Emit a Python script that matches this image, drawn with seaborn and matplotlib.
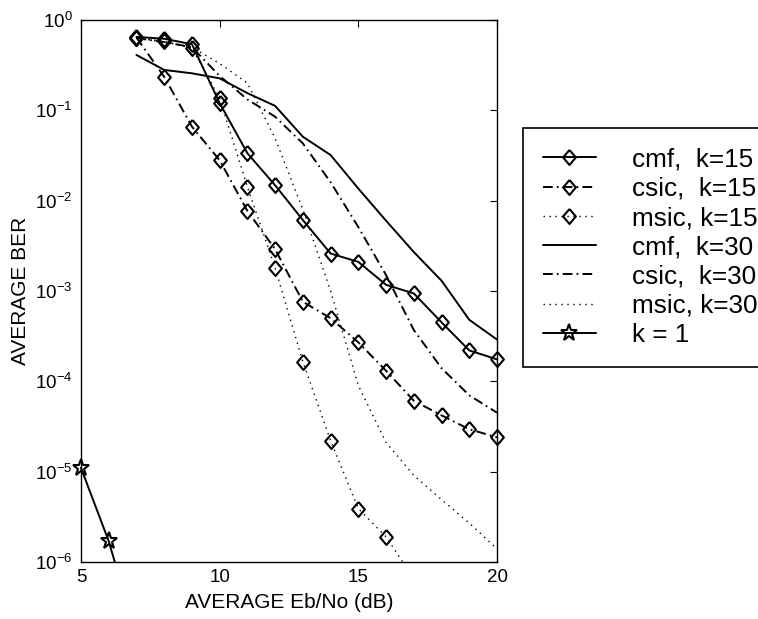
import matplotlib
matplotlib.use("Agg")
import matplotlib.pyplot as plt
import seaborn as sns
from matplotlib.ticker import NullLocator, LogFormatterSciNotation
from matplotlib.transforms import Bbox, TransformedBbox

# Eb/No grid (dB)
ebno_k15 = [7, 8, 9, 10, 11, 12, 13, 14, 15, 16, 17, 18, 19, 20]
ebno_k30 = [7, 8, 9, 10, 11, 12, 13, 14, 15, 16, 17, 18, 19, 20]
ebno_msic15 = [7, 8, 9, 10, 11, 12, 13, 14, 15, 16, 17]
ebno_k1 = [5, 6, 7]

# Average BER, K = 15 users
ber_cmf_k15 = [0.65, 0.62, 0.54, 0.12, 0.0335, 0.0148, 0.0061, 0.0026,
               0.0021, 0.00117, 0.00094, 0.00045, 0.00022, 0.000175]
ber_csic_k15 = [0.64, 0.235, 0.066, 0.028, 0.0077, 0.0029, 0.00076, 0.0005,
                0.00027, 0.000131, 0.000061, 0.000042, 0.0000295, 0.000024]
ber_msic_k15 = [0.64, 0.58, 0.49, 0.136, 0.0142, 0.0018, 0.000165, 0.000022,
                0.0000039, 0.0000019, 6.5e-7]

# Average BER, K = 30 users
ber_cmf_k30 = [0.41, 0.28, 0.257, 0.226, 0.155, 0.112, 0.051, 0.032,
               0.0136, 0.006, 0.0027, 0.0013, 0.00048, 0.00029]
ber_csic_k30 = [0.63, 0.57, 0.5, 0.24, 0.132, 0.085, 0.043, 0.016,
                0.0051, 0.0015, 0.00037, 0.00014, 0.00007, 0.000045]
ber_msic_k30 = [0.63, 0.57, 0.5, 0.33, 0.2, 0.049, 0.008, 0.001,
                0.00009, 0.000021, 0.0000091, 0.0000049, 0.0000027, 0.0000014]

# Single user
ber_k1 = [1.1e-5, 1.7e-6, 1.5e-7]

labels = ["cmf,  k=15", "csic,  k=15", "msic, k=15",
          "cmf,  k=30", "csic,  k=30", "msic, k=30", "k = 1"]

sns.set_theme(style="white", rc={
    "axes.edgecolor": "black", "text.color": "black",
    "axes.labelcolor": "black", "xtick.color": "black", "ytick.color": "black",
})
plt.rcParams["font.family"] = ["Liberation Sans", "DejaVu Sans"]
plt.rcParams["mathtext.default"] = "regular"
plt.rcParams["lines.scale_dashes"] = False

fig = plt.figure(figsize=(7.58, 6.19), dpi=100)
ax = fig.add_axes([81 / 758, 1 - 562 / 619, 416 / 758, 542 / 619])
ax.set_yscale("log")

diamond = [(0, 1), (0.85, 0), (0, -1), (-0.85, 0), (0, 1)]
solid = "-"
dashdot = (0, (7, 3, 1.2, 3))
dotted = (0, (1.0, 3.3))

series = [
    (ebno_k15, ber_cmf_k15, labels[0], solid, 1.4, diamond, 10.8),
    (ebno_k15, ber_csic_k15, labels[1], dashdot, 1.4, diamond, 10.8),
    (ebno_msic15, ber_msic_k15, labels[2], dotted, 1.0, diamond, 10.8),
    (ebno_k30, ber_cmf_k30, labels[3], solid, 1.4, None, 0),
    (ebno_k30, ber_csic_k30, labels[4], dashdot, 1.4, None, 0),
    (ebno_k30, ber_msic_k30, labels[5], dotted, 1.0, None, 0),
    (ebno_k1, ber_k1, labels[6], solid, 1.4, "*", 12.5),
]

for xs, ys, lab, ls, lw, mk, ms in series:
    kw = dict(x=xs, y=ys, ax=ax, color="black", linestyle=ls, linewidth=lw,
              label=lab, legend=False, errorbar=None, sort=False)
    if mk is not None:
        kw.update(marker=mk, markersize=ms, markerfacecolor="none",
                  markeredgecolor="black", markeredgewidth=1.5)
    sns.lineplot(**kw)

# markers sitting on the left/right frame are drawn whole; lines stop at the bottom
clip = TransformedBbox(Bbox([[-0.05, 0.0], [1.05, 1.05]]), ax.transAxes)
for ln in ax.lines:
    ln.set_clip_box(clip)

ax.set_xlim(5, 20)
ax.set_ylim(1e-6, 1)
ax.set_xticks([5, 10, 15, 20])
ax.set_yticks([1e-6, 1e-5, 1e-4, 1e-3, 1e-2, 1e-1, 1])
ax.yaxis.set_major_formatter(LogFormatterSciNotation())
ax.yaxis.set_minor_locator(NullLocator())
ax.tick_params(which="both", direction="in", top=True, right=True,
               length=5, width=0.8, labelsize=13.5)
ax.tick_params(axis="x", pad=5)
ax.tick_params(axis="y", pad=6)
for sp in ax.spines.values():
    sp.set_linewidth(1.0)
    sp.set_color("black")

ax.set_xlabel("AVERAGE Eb/No (dB)", fontsize=15, labelpad=5)
ax.set_ylabel("AVERAGE BER", fontsize=15, labelpad=4)

leg = ax.legend(loc="upper left", bbox_to_anchor=(523 / 758, 1 - 128 / 619),
                bbox_transform=fig.transFigure, borderaxespad=0, fontsize=18.8,
                frameon=True, fancybox=False, edgecolor="black", framealpha=1,
                handlelength=2.05, handletextpad=1.36, labelspacing=0.2,
                borderpad=0.75, numpoints=1)
leg.get_frame().set_linewidth(1.2)

fig.savefig("out.png", dpi=100)
